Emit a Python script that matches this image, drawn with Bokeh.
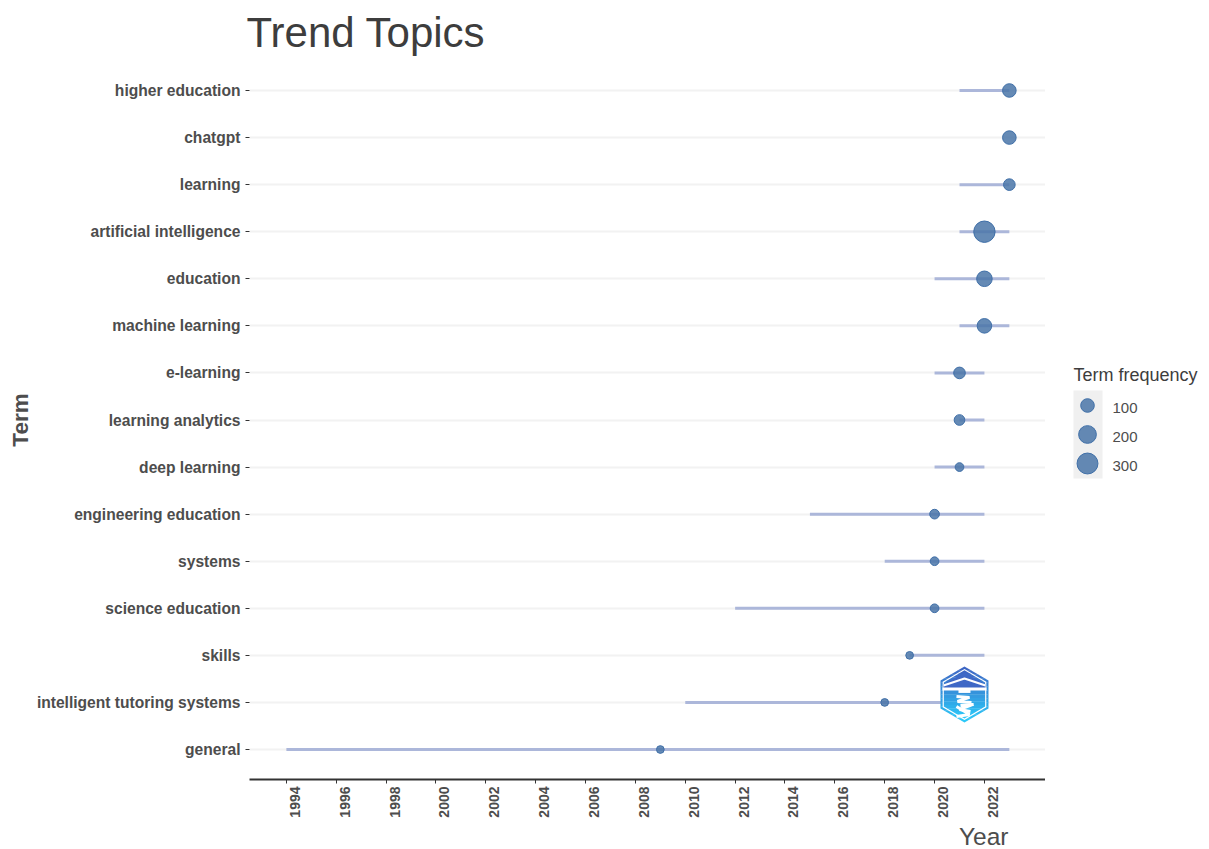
import math
from bokeh.plotting import figure
from bokeh.layouts import row
from bokeh.models import FactorRange, Range1d, FixedTicker, LinearAxis, Title
from bokeh.embed import file_html
from bokeh.resources import INLINE

terms = ["general", "intelligent tutoring systems", "skills", "science education", "systems",
         "engineering education", "deep learning", "learning analytics", "e-learning",
         "machine learning", "education", "artificial intelligence", "learning", "chatgpt", "higher education"]
year_q1 = [1994, 2010, 2019, 2012, 2018, 2015, 2020, 2021, 2020, 2021, 2020, 2021, 2021, 2023, 2021]
year_med = [2009, 2018, 2019, 2020, 2020, 2020, 2021, 2021, 2021, 2022, 2022, 2022, 2023, 2023, 2023]
year_q3 = [2023, 2022, 2022, 2022, 2022, 2022, 2022, 2022, 2022, 2023, 2023, 2023, 2023, 2023, 2023]
freq = [17, 17, 17, 26, 26, 37, 26, 50, 65, 120, 143, 317, 65, 100, 100]
year_ticks = list(range(1994, 2024, 2))
legend_values = [100, 200, 300]

def diam(f):
    return 3.6 + 1.0 * math.sqrt(f)

X0, X1 = 1992.52, 2024.45
PX, PY = 24.93, 47.07
shift = 8.5 / PX
p = figure(width=1045, height=849, output_backend="svg", toolbar_location=None,
           x_range=Range1d(X0, X1), y_range=FactorRange(factors=terms, range_padding=0.137, range_padding_units="absolute"),
           extra_x_ranges={"ticklabels": Range1d(X0 - shift, X1 - shift)},
           min_border_left=249, min_border_bottom=70, min_border_top=60, min_border_right=0,
           outline_line_color=None, background_fill_color="white", border_fill_color="white")

p.title.text = "Trend Topics"
p.title.text_font = "Liberation Sans"
p.title.text_font_style = "normal"
p.title.text_font_size = "42px"
p.title.text_color = "#3d3d3d"
p.title.offset = -3
p.title.standoff = 9

p.xgrid.visible = False
p.ygrid.grid_line_color = "#f2f2f2"
p.ygrid.grid_line_width = 2

xa = p.xaxis[0]
xa.ticker = FixedTicker(ticks=year_ticks)
xa.major_label_text_color = None
xa.major_label_text_font_size = "0px"
xa.major_label_standoff = 0
xa.axis_line_color = "#333333"
xa.axis_line_width = 2
xa.major_tick_line_color = "#333333"
xa.major_tick_in = 0
xa.major_tick_out = 4
xa.minor_tick_line_color = None

lab_axis = LinearAxis(x_range_name="ticklabels", ticker=FixedTicker(ticks=year_ticks),
                      axis_line_color=None, major_tick_line_color=None, minor_tick_line_color=None,
                      major_label_orientation=math.pi/2, major_label_standoff=-3,
                      major_label_text_font="Liberation Sans", major_label_text_font_style="bold",
                      major_label_text_font_size="14px", major_label_text_color="#4d4d4d")
p.add_layout(lab_axis, "below")
p.add_layout(Title(text="Year", align="right", offset=37, standoff=0, text_font="Liberation Sans",
                   text_font_style="normal", text_font_size="24.5px", text_color="#4d4d4d"), "below")

ya = p.yaxis[0]
ya.axis_label = "Term"
ya.axis_label_text_font = "Liberation Sans"
ya.axis_label_text_font_style = "bold"
ya.axis_label_text_font_size = "22.5px"
ya.axis_label_text_color = "#4d4d4d"
ya.axis_label_standoff = 1
ya.axis_line_color = None
ya.major_tick_line_color = "#333333"
ya.major_tick_in = 0
ya.major_tick_out = 4
ya.major_label_standoff = 5
ya.major_label_text_font = "Liberation Sans"
ya.major_label_text_font_style = "bold"
ya.major_label_text_font_size = "15.6px"
ya.major_label_text_color = "#4d4d4d"

p.segment(x0=year_q1, x1=year_q3, y0=terms, y1=terms, line_color="#acb7da", line_width=3)
p.scatter(x=year_med, y=terms, size=[diam(f) for f in freq], marker="circle",
          fill_color="#4a76a8", fill_alpha=0.85, line_color="#3f6fa8", line_width=1)

# Hexagonal logo on the chart
LX, LY = 2021.2, 1.67
def hx(px): return LX + px / PX
def hy(py): return LY - py / PY
HW, HH = 24, 28
def hex_pts(s):
    return [(0, -HH*s), (HW*s, -HH*s/2), (HW*s, HH*s/2), (0, HH*s), (-HW*s, HH*s/2), (-HW*s, -HH*s/2)]
def clip_band(s, y0, y1):
    def half(y):
        a = abs(y) / (HH*s)
        return HW*s if a <= .5 else HW*s * (1 - a) * 2
    ys = [y0] + [v for v in (-HH*s/2, HH*s/2) if y0 < v < y1] + [y1]
    return [(half(y), y) for y in ys] + [(-half(y), y) for y in reversed(ys)]
def grad(t):
    a, b = (0x3d, 0x66, 0xc4), (0x2c, 0xc8, 0xf8)
    return "#%02x%02x%02x" % tuple(round(a[i] + (b[i]-a[i])*t) for i in range(3))
def bands(s, n=14):
    out = []
    for i in range(n):
        y0 = -HH*s + 2*HH*s*i/n; y1 = y0 + 2*HH*s/n + .3
        out.append((clip_band(s, y0, min(y1, HH*s)), grad(i/(n-1))))
    return out
def draw(pts, c):
    p.patch([hx(a) for a, _ in pts], [hy(b) for _, b in pts], fill_color=c, line_color=None)
for pts, c in bands(1.0): draw(pts, c)
draw(hex_pts(.91), "white")
for pts, c in bands(.86):
    if sum(b for _, b in pts)/len(pts) > -23: draw(pts, c)
draw([(-21, -10), (0, -22), (21, -10), (21, -6), (-21, -6)], "#3f68c6")
draw([(-22, -7), (22, -7), (22, -4), (-22, -4)], "white")
p.line([hx(v) for v in (-21, 0, 21)], [hy(v) for v in (-9, -16, -9)], line_color="white", line_width=2)
p.multi_line([[hx(v) for v in xs] for xs in ((-6, 6), (-8, 5, -7, 7), (-4, 9, -5, 6), (-8, 5, -8))],
             [[hy(v) for v in ys] for ys in ((-3, -3), (2, 3, 7, 8), (11, 10, 15, 17), (12, 20, 22))],
             line_color="white", line_width=3)

# Size legend, in its own panel; its coordinates are page pixels
lg = figure(width=164, height=849, output_backend="svg", toolbar_location=None,
            x_range=Range1d(1045, 1209), y_range=Range1d(779, 60), outline_line_color=None,
            min_border=0, background_fill_color="white", border_fill_color="white")
lg.axis.visible = False
lg.grid.visible = False
rows = [405, 434, 463]
lg.quad(left=[1073], right=[1102], top=[390], bottom=[478], fill_color="#f0f0f0", line_color=None)
lg.scatter(x=[1087]*3, y=rows, size=[diam(v) for v in legend_values], marker="circle",
           fill_color="#4a76a8", fill_alpha=0.85, line_color="#3f6fa8")
lg.text(x=[1112]*3, y=[407, 436, 465], text=[str(v) for v in legend_values], text_font_size="15px",
        text_baseline="middle", text_color="#4d4d4d", text_font={"value": "Liberation Sans"})
lg.text(x=[1073], y=[374], text=["Term frequency"], text_font_size="18px", text_baseline="middle",
        text_color="#3d3d3d", text_font={"value": "Liberation Sans"})

layout = row(p, lg, spacing=0)
open("out.html", "w").write(file_html(layout, INLINE))
